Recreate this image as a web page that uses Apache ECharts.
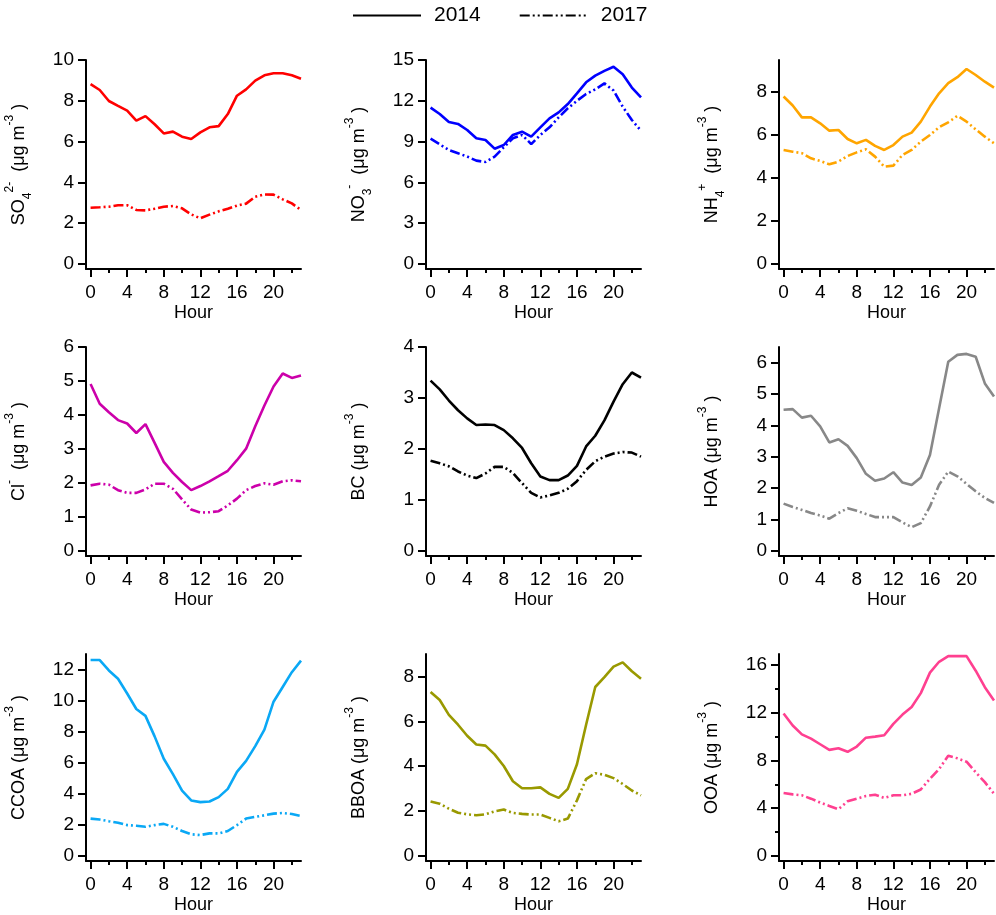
<!DOCTYPE html>
<html>
<head>
<meta charset="utf-8">
<script src="https://cdn.jsdelivr.net/npm/echarts@6/dist/echarts.min.js"></script>
<style>html,body{margin:0;padding:0;background:#fff}#c{width:996px;height:915px}</style>
</head>
<body>
<div id="c"></div>
<script>
// ---- data ----
const hours = [0,1,2,3,4,5,6,7,8,9,10,11,12,13,14,15,16,17,18,19,20,21,22,23];
const xTickLabels = [0,4,8,12,16,20];
const xMinorTicks = [2,6,10,14,18,22];

const so4_2014 = [8.82,8.53,7.99,7.75,7.52,7.03,7.25,6.85,6.40,6.49,6.24,6.13,6.45,6.70,6.76,7.35,8.25,8.56,8.99,9.25,9.35,9.35,9.25,9.08];
const so4_2017 = [2.76,2.78,2.81,2.88,2.88,2.65,2.63,2.71,2.81,2.84,2.73,2.43,2.24,2.42,2.58,2.71,2.86,2.96,3.30,3.41,3.40,3.17,2.97,2.65];
const no3_2014 = [11.50,11.03,10.44,10.30,9.85,9.24,9.12,8.48,8.75,9.49,9.73,9.36,10.05,10.71,11.15,11.76,12.55,13.36,13.85,14.20,14.50,13.95,12.97,12.25];
const no3_2017 = [9.22,8.80,8.38,8.14,7.90,7.60,7.50,7.90,8.58,9.24,9.49,8.82,9.49,10.05,10.78,11.45,12.00,12.50,12.84,13.28,12.75,11.57,10.59,9.80];
const nh4_2014 = [7.80,7.38,6.83,6.83,6.55,6.21,6.24,5.82,5.62,5.78,5.50,5.31,5.54,5.93,6.12,6.63,7.33,7.95,8.42,8.70,9.08,8.80,8.49,8.21];
const nh4_2017 = [5.31,5.23,5.16,4.92,4.80,4.64,4.77,5.03,5.20,5.34,5.00,4.53,4.58,5.08,5.31,5.70,6.01,6.37,6.60,6.90,6.63,6.27,5.93,5.62];
const cl_2014 = [4.91,4.33,4.08,3.85,3.75,3.47,3.73,3.18,2.62,2.30,2.03,1.79,1.91,2.05,2.20,2.36,2.67,3.01,3.67,4.28,4.84,5.22,5.09,5.16];
const cl_2017 = [1.93,1.98,1.95,1.79,1.71,1.71,1.81,1.98,1.98,1.83,1.52,1.22,1.13,1.14,1.17,1.34,1.54,1.79,1.91,1.99,1.95,2.05,2.08,2.05];
const bc_2014 = [3.34,3.17,2.95,2.76,2.60,2.47,2.48,2.47,2.37,2.21,2.02,1.72,1.46,1.39,1.39,1.48,1.67,2.05,2.26,2.56,2.93,3.27,3.50,3.40];
const bc_2017 = [1.77,1.72,1.66,1.56,1.48,1.43,1.52,1.65,1.65,1.53,1.33,1.14,1.05,1.09,1.14,1.22,1.37,1.59,1.76,1.85,1.91,1.94,1.93,1.85];
const hoa_2014 = [4.50,4.52,4.25,4.31,3.97,3.46,3.56,3.35,2.96,2.46,2.24,2.31,2.51,2.18,2.10,2.34,3.06,4.55,6.03,6.25,6.28,6.19,5.34,4.92];
const hoa_2017 = [1.51,1.40,1.31,1.21,1.13,1.03,1.21,1.36,1.28,1.18,1.08,1.08,1.08,0.91,0.76,0.89,1.42,2.11,2.53,2.38,2.14,1.90,1.69,1.53];
const ccoa_2014 = [12.61,12.61,11.94,11.41,10.46,9.46,9.02,7.70,6.26,5.27,4.21,3.58,3.47,3.51,3.79,4.32,5.42,6.12,7.07,8.13,9.93,10.88,11.83,12.57];
const ccoa_2017 = [2.41,2.35,2.24,2.14,1.99,1.95,1.88,1.99,2.07,1.88,1.61,1.40,1.35,1.46,1.46,1.61,1.99,2.41,2.52,2.62,2.73,2.77,2.71,2.58];
const bboa_2014 = [7.31,6.95,6.29,5.85,5.36,4.97,4.92,4.53,4.01,3.33,3.02,3.02,3.06,2.77,2.59,2.99,4.09,5.85,7.53,7.97,8.44,8.63,8.23,7.90];
const bboa_2017 = [2.43,2.33,2.11,1.93,1.86,1.82,1.86,1.99,2.07,1.92,1.88,1.85,1.85,1.70,1.55,1.67,2.48,3.43,3.69,3.62,3.47,3.21,2.92,2.70];
const ooa_2014 = [11.92,10.92,10.18,9.82,9.35,8.88,9.02,8.72,9.16,9.90,9.99,10.10,11.06,11.83,12.47,13.63,15.34,16.25,16.72,16.72,16.72,15.50,14.12,13.02];
const ooa_2017 = [5.27,5.16,5.08,4.80,4.47,4.19,3.92,4.58,4.80,5.02,5.13,4.86,5.08,5.08,5.21,5.57,6.46,7.28,8.39,8.17,7.89,7.01,6.18,5.21];

const legendNames = ['2014','2017'];

// y tick labels per panel
const yTicks = [
  [0,2,4,6,8,10],
  [0,3,6,9,12,15],
  [0,2,4,6,8],
  [0,1,2,3,4,5,6],
  [0,1,2,3,4],
  [0,1,2,3,4,5,6],
  [0,2,4,6,8,10,12],
  [0,2,4,6,8],
  [0,4,8,12,16]
];
const yMinorTicks = [[],[],[],[],[],[],[],[],[2,6,10,14]];

// ---- panel configuration (styles/layout) ----
const panels = [
  {s14: so4_2014, s17: so4_2017, color:'#FF0000', max:10, name:'{m|SO}{sub|4}{sup|2-}{m|  (μg m}{sup|-3}{m| )}'},
  {s14: no3_2014, s17: no3_2017, color:'#0000FF', max:15, name:'{m|NO}{sub|3}{sup|-}{m|  (μg m}{sup|-3}{m| )}'},
  {s14: nh4_2014, s17: nh4_2017, color:'#FFA500', max:9.5, name:'{m|NH}{sub|4}{sup|+}{m|  (μg m}{sup|-3}{m| )}'},
  {s14: cl_2014, s17: cl_2017, color:'#CC00AA', max:6, name:'{m|Cl}{sup|-}{m|  (μg m}{sup|-3}{m| )}'},
  {s14: bc_2014, s17: bc_2017, color:'#000000', max:4, name:'{m|BC (μg m}{sup|-3}{m| )}'},
  {s14: hoa_2014, s17: hoa_2017, color:'#888888', max:6.5, name:'{m|HOA (μg m}{sup|-3}{m| )}'},
  {s14: ccoa_2014, s17: ccoa_2017, color:'#0AA8F5', max:13, name:'{m|CCOA (μg m}{sup|-3}{m| )}'},
  {s14: bboa_2014, s17: bboa_2017, color:'#999900', max:9, name:'{m|BBOA (μg m}{sup|-3}{m| )}'},
  {s14: ooa_2014, s17: ooa_2017, color:'#FF4090', max:16.9, name:'{m|OOA (μg m}{sup|-3}{m| )}'}
];

const colLefts = [86, 426, 779];
const rowTops = [60, 347, 654];
const gridW = 215, gridH = 209;
const FONT = "'Liberation Sans', Arial, sans-serif";
const dashPattern = [10, 3, 2, 3, 2, 3];

const grids = [], xAxes = [], yAxes = [], series = [];
const toPairs = vals => hours.map((h, i) => [h, vals[i]]);

panels.forEach((p, i) => {
  const r = Math.floor(i / 3), c = i % 3;
  grids.push({left: colLefts[c], top: rowTops[r], width: gridW, height: gridH, containLabel: false});
  const ymin = -p.max * 5 / (gridH - 5);
  xAxes.push({
    gridIndex: i, type: 'value', min: -0.5, max: 23, position: 'bottom',
    name: 'Hour', nameLocation: 'middle', nameGap: 35,
    nameTextStyle: {fontSize: 18, color: '#000', fontFamily: FONT},
    axisLine: {show: true, onZero: false, lineStyle: {color: '#000', width: 2}},
    axisTick: {show: true, length: 8, customValues: xTickLabels, lineStyle: {color: '#000', width: 2}},
    axisLabel: {show: true, margin: 14, fontSize: 19, color: '#000', fontFamily: FONT, customValues: xTickLabels},
    splitLine: {show: false}
  });
  xAxes.push({
    gridIndex: i, type: 'value', min: -0.5, max: 23, position: 'bottom',
    axisLine: {show: false, onZero: false},
    axisTick: {show: true, length: 4, customValues: xMinorTicks, lineStyle: {color: '#000', width: 2}},
    axisLabel: {show: false, customValues: xMinorTicks},
    splitLine: {show: false}
  });
  yAxes.push({
    gridIndex: i, type: 'value', min: ymin, max: p.max, position: 'left',
    name: p.name, nameLocation: 'middle', nameGap: 52, nameRotate: 90,
    nameTextStyle: {
      fontSize: 18, color: '#000', fontFamily: FONT, lineHeight: 30,
      rich: {
        m: {fontSize: 18, color: '#000', fontFamily: FONT, lineHeight: 30},
        sup: {fontSize: 12, color: '#000', fontFamily: FONT, verticalAlign: 'top', lineHeight: 12},
        sub: {fontSize: 12, color: '#000', fontFamily: FONT, verticalAlign: 'bottom', lineHeight: 14}
      }
    },
    axisLine: {show: true, onZero: false, lineStyle: {color: '#000', width: 2}},
    axisTick: {show: true, length: 8, customValues: yTicks[i], lineStyle: {color: '#000', width: 2}},
    axisLabel: {show: true, margin: 12, fontSize: 19, color: '#000', fontFamily: FONT, customValues: yTicks[i]},
    splitLine: {show: false}
  });
  yAxes.push({
    gridIndex: i, type: 'value', min: ymin, max: p.max, position: 'left',
    axisLine: {show: false, onZero: false},
    axisTick: {show: yMinorTicks[i].length > 0, length: 4, customValues: yMinorTicks[i].length ? yMinorTicks[i] : [0], lineStyle: {color: '#000', width: 2}},
    axisLabel: {show: false},
    splitLine: {show: false}
  });
  const xi = i * 2, yi = i * 2;
  series.push({
    name: 'p' + i + '_2014', type: 'line', xAxisIndex: xi, yAxisIndex: yi,
    data: toPairs(p.s14), symbol: 'none', silent: true,
    lineStyle: {color: p.color, width: 2.6, type: 'solid'}, itemStyle: {color: p.color}
  });
  series.push({
    name: 'p' + i + '_2017', type: 'line', xAxisIndex: xi, yAxisIndex: yi,
    data: toPairs(p.s17), symbol: 'none', silent: true,
    lineStyle: {color: p.color, width: 2.6, type: dashPattern}, itemStyle: {color: p.color}
  });
});

// legend-only series (black)
series.push({name: legendNames[0], type: 'line', xAxisIndex: 0, yAxisIndex: 0, data: [], symbol: 'none',
  lineStyle: {color: '#000', width: 2.6, type: 'solid'}, itemStyle: {color: '#000', opacity: 0}});
series.push({name: legendNames[1], type: 'line', xAxisIndex: 0, yAxisIndex: 0, data: [], symbol: 'none',
  lineStyle: {color: '#000', width: 2.6, type: dashPattern}, itemStyle: {color: '#000', opacity: 0}});

const chart = echarts.init(document.getElementById('c'), null, {renderer: 'canvas'});
chart.setOption({
  animation: false,
  backgroundColor: '#fff',
  legend: {
    data: legendNames, left: 347, top: 0, itemWidth: 68, itemHeight: 14, itemGap: 38,
    selectedMode: false,
    itemStyle: {opacity: 0},
    textStyle: {fontSize: 21, color: '#000', fontFamily: FONT, padding: [0, 0, 0, 8]}
  },
  grid: grids,
  xAxis: xAxes,
  yAxis: yAxes,
  series: series
});
</script>
</body>
</html>
